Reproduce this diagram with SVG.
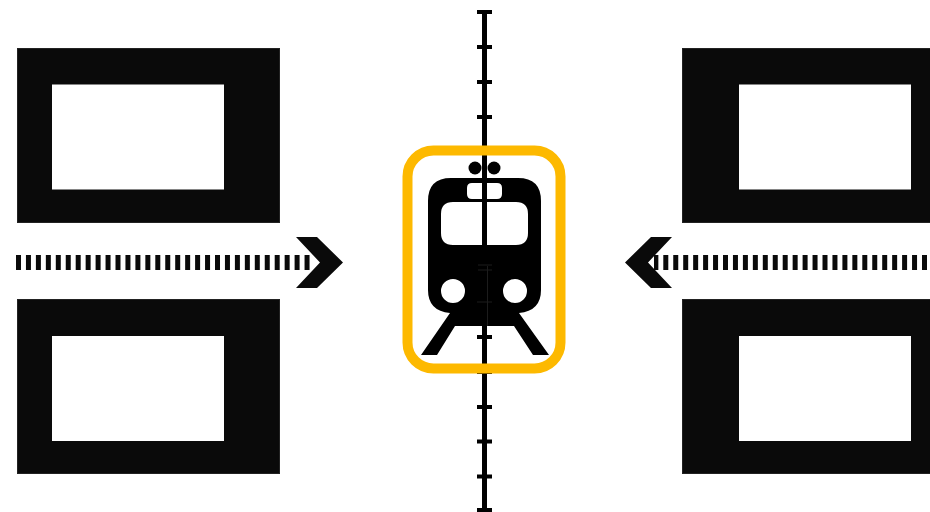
<svg xmlns="http://www.w3.org/2000/svg" width="930" height="512" viewBox="0 0 930 512">
<defs>
<style>
.box{fill:#0a0a0a;stroke:#222;stroke-width:1}
.hole{fill:#fff}
.dash{fill:none;stroke:#0a0a0a;stroke-width:15;stroke-dasharray:5 4.95}
.chev{fill:#0a0a0a}
.track{stroke:#000;fill:none}
</style>
</defs>
<rect width="930" height="512" fill="#fff"/>
<g id="track" class="track">
<path stroke-width="5" d="M484.5 11V511"/>
<path stroke-width="4" d="M477 12H492M477 47H492M477 82H492M477 117H492M477 152H492M477 337H492M477 372H492M477 407H492M477 441.500H492M477 476.500H492M477 510H492"/>
</g>
<g id="block-top-left"><rect class="box" x="17.500" y="48.500" width="262" height="174"/><rect class="hole" x="52" y="84.500" width="172" height="105"/></g>
<g id="block-bottom-left"><rect class="box" x="17.500" y="299.500" width="262" height="174"/><rect class="hole" x="52" y="336" width="172" height="105"/></g>
<g id="block-top-right"><rect class="box" x="682.500" y="48.500" width="262" height="174"/><rect class="hole" x="739" y="84.500" width="172" height="105"/></g>
<g id="block-bottom-right"><rect class="box" x="682.500" y="299.500" width="262" height="174"/><rect class="hole" x="739" y="336" width="172" height="105"/></g>
<g id="connectors">
<path class="dash" d="M16 262.500H314"/>
<path class="chev" d="M296 237H317L343 262.500L317 288H296L320 262.500Z"/>
<path class="dash" d="M927 262.500H654" stroke-dashoffset="0"/>
<path class="chev" d="M672 237H651L625 262.500L651 288H672L648 262.500Z"/>
</g>
<g id="train">
<path fill-rule="evenodd" fill="#000" d="M451 178H518Q541 178 541 201V290Q541 311 519 313L549 355H533L514 326H455L437 355H421L450 313Q428 311 428 290V201Q428 178 451 178ZM472 183H497Q502 183 502 188V194Q502 199 497 199H472Q467 199 467 194V188Q467 183 472 183ZM453 202H516Q528 202 528 214V233Q528 245 516 245H453Q441 245 441 233V214Q441 202 453 202ZM465 291A12 12 0 1 0 441 291A12 12 0 1 0 465 291ZM527 291A12 12 0 1 0 503 291A12 12 0 1 0 527 291Z"/>
<circle cx="475" cy="168" r="6.500"/>
<circle cx="494" cy="168" r="6.500"/>
<path stroke="#000" stroke-width="5" d="M484.500 152V178"/>
<path stroke="#1c1c1c" stroke-width="1" fill="none" d="M478 265H492M478 270H492M477 302H492M487.500 266V326"/>
</g>
<g id="station-frame"><rect x="407.500" y="150.500" width="153" height="218" rx="26" fill="none" stroke="#fdb900" stroke-width="10"/></g>
</svg>
